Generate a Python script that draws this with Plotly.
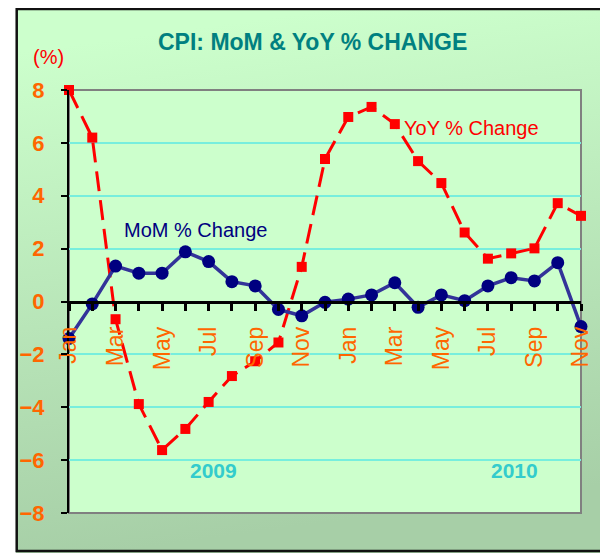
import base64
import plotly.graph_objects as go

# ---- data ----
months = ["Jan", "Feb", "Mar", "Apr", "May", "Jun", "Jul", "Aug", "Sep", "Oct", "Nov", "Dec",
          "Jan", "Feb", "Mar", "Apr", "May", "Jun", "Jul", "Aug", "Sep", "Oct", "Nov"]
yoy = [8.0, 6.2, -0.67, -3.88, -5.62, -4.82, -3.80, -2.82, -2.26, -1.55, 1.31, 5.39,
       6.98, 7.36, 6.71, 5.31, 4.48, 2.61, 1.62, 1.82, 2.01, 3.72, 3.24]
mom = [-1.4, -0.09, 1.34, 1.07, 1.07, 1.88, 1.51, 0.75, 0.59, -0.30, -0.54, -0.03,
       0.09, 0.25, 0.71, -0.22, 0.25, 0.03, 0.59, 0.90, 0.78, 1.47, -0.95]
y_ticks = [-8, -6, -4, -2, 0, 2, 4, 6, 8]
years = ["2009", "2010"]
year_pos = [6.2, 19.15]

x = list(range(len(months)))
xt_text = [m if i % 2 == 0 else "" for i, m in enumerate(months)]

# page body has an 8px margin; work in window pixels and convert
OFF = 8
W, H = 608 - OFF, 553 - OFF
PL, PR, PT, PB = 62, 581, 90, 513          # plot area in window pixels
L, T = PL - OFF, PT - OFF
R, B = W - (PR - OFF), H - (PB - OFF)
pw, ph = PR - PL, PB - PT

def px_x(p):
    return (p - PL) / pw

def px_y(p):
    return (PB - p) / ph

svg = ('<svg xmlns="http://www.w3.org/2000/svg" width="100" height="100" viewBox="0 0 100 100" '
       'preserveAspectRatio="none"><defs><linearGradient id="g" x1="0" y1="0" x2="0.15" y2="1">'
       '<stop offset="0" stop-color="#CCFFCC"/><stop offset="0.08" stop-color="#CCFFCC"/>'
       '<stop offset="1" stop-color="#A7CFA7"/></linearGradient></defs>'
       '<rect width="100" height="100" fill="url(#g)"/></svg>')
src = "data:image/svg+xml;base64," + base64.b64encode(svg.encode()).decode()

fig = go.Figure()
fig.add_trace(go.Scatter(
    x=x, y=yoy, mode="lines+markers", name="YoY % Change",
    line=dict(color="#FF0000", width=3, dash="20px,9px"),
    marker=dict(symbol="square", size=10, color="#FF0000"),
    cliponaxis=False, showlegend=False))
fig.add_trace(go.Scatter(
    x=x, y=mom, mode="lines+markers", name="MoM % Change",
    line=dict(color="#333399", width=3.5),
    marker=dict(symbol="circle", size=13, color="#000080"),
    cliponaxis=False, showlegend=False))

fig.update_layout(
    width=W, height=H,
    margin=dict(l=L, r=R, t=T, b=B),
    paper_bgcolor="white",
    plot_bgcolor="#CCFFCC",
    font=dict(family="Liberation Sans, Arial, sans-serif"),
    xaxis=dict(
        range=[0, 22], tickmode="array", tickvals=x, ticktext=xt_text,
        tickangle=-90, ticks="outside", ticklen=7, tickwidth=3, tickcolor="black",
        tickfont=dict(color="#FF6600", size=23),
        showline=True, linecolor="black", linewidth=3,
        showgrid=False, zeroline=False,
        anchor="free", position=0.5, ticklabelstandoff=7,
    ),
    yaxis=dict(
        range=[-8, 8], tickmode="array", tickvals=y_ticks,
        ticks="outside", ticklen=6, tickwidth=2, tickcolor="black",
        tickfont=dict(color="#FF6600", size=22, weight="bold"),
        showline=True, linecolor="black", linewidth=2,
        showgrid=True, gridcolor="#77EEDD", gridwidth=1.5,
        zeroline=False, ticklabelstandoff=12,
    ),
    images=[dict(source=src, xref="paper", yref="paper",
                 x=px_x(OFF), y=px_y(OFF), sizex=px_x(612) - px_x(OFF),
                 sizey=px_y(OFF) - px_y(553),
                 xanchor="left", yanchor="top", sizing="stretch", layer="below")],
    shapes=[
        dict(type="rect", xref="paper", yref="paper", x0=0, x1=1, y0=0, y1=1,
             fillcolor="#CCFFCC", line=dict(color="#808080", width=2), layer="below"),
        dict(type="rect", xref="paper", yref="paper",
             x0=px_x(OFF + 1), x1=px_x(620), y0=px_y(551), y1=px_y(OFF + 1),
             line=dict(color="#111111", width=2.5), layer="above"),
    ],
)

fig.add_annotation(text="<b>CPI: MoM &amp; YoY % CHANGE</b>", xref="paper", yref="paper",
                   x=px_x(309), y=px_y(42), xanchor="center", yanchor="middle",
                   showarrow=False, font=dict(size=23, color="#008080"))
fig.add_annotation(text="(%)", xref="paper", yref="paper", x=px_x(41), y=px_y(57),
                   xanchor="center", yanchor="middle",
                   showarrow=False, font=dict(size=20, color="#FF0000"))
fig.add_annotation(text="YoY % Change", x=17.3, y=6.56, showarrow=False,
                   font=dict(size=20, color="#FF0000"))
fig.add_annotation(text="MoM % Change", x=5.43, y=2.70, showarrow=False,
                   font=dict(size=20, color="#000080"))
for yr, xp in zip(years, year_pos):
    fig.add_annotation(text="<b>%s</b>" % yr, x=xp, y=-6.41, showarrow=False,
                       font=dict(size=21, color="#33CCCC"))

fig.write_html("out.html")
